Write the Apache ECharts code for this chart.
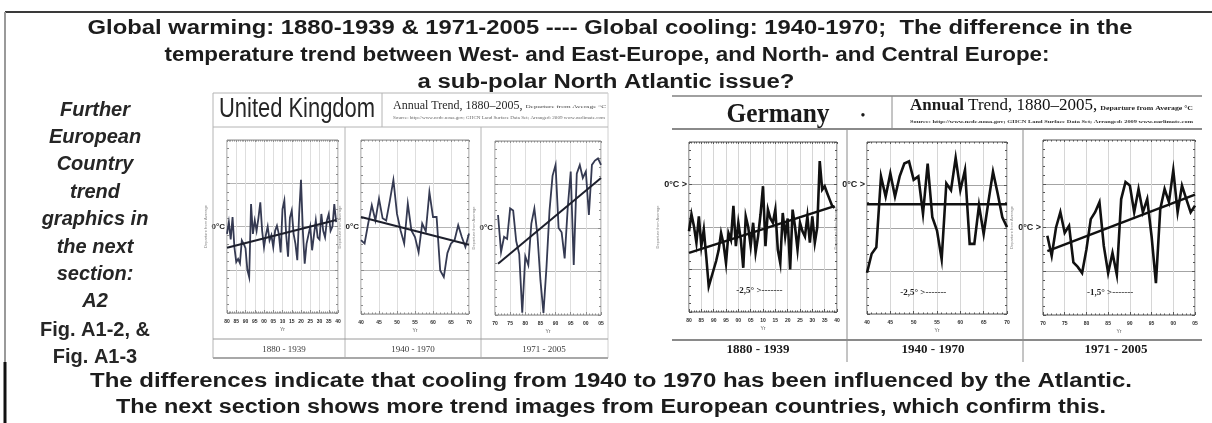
<!DOCTYPE html>
<html>
<head>
<meta charset="utf-8">
<script src="https://cdn.jsdelivr.net/npm/echarts@6/dist/echarts.min.js"></script>
<style>
  html, body { margin: 0; padding: 0; background: #fff; }
  #chart { width: 1212px; height: 423px; }
</style>
</head>
<body>
<div id="chart"></div>
<script>
// ---- Annual temperature departures (°C) ----
const ukTemp1880 = [-0.17, 0.1, -0.3, 0.22, -0.48, -0.82, -0.75, -0.85, -0.32, -0.4,
  -0.5, -1.0, -1.17, 0.52, -0.17, 0.14, -0.1, 0.2, 0.56, -0.1,
  -0.48, -0.2, 0.0, -0.32, -0.2, -0.48, -0.1, 0.02, -0.17, -0.6,
  0.4, 0.6, -0.2, -0.7, 0.2, 0.37, -0.17, -0.4, -0.78, 0.29,
  1.08, -0.1, -0.86, -0.4, -0.2, 0.0, -0.55, -0.2, 0.14, -0.25,
  -0.3, 0.29, -0.1, -0.25, 0.14, 0.29, -0.1, 0.0, 0.52, 0.1];
const ukTemp1940 = [-0.3, -0.38, 0.08, 0.5, 0.15, 0.65, 0.2, 0.15, 0.6, 1.08,
  0.3, -0.08, -0.38, 0.54, -0.08, -0.23, -0.58, 0.08, -0.1, 0.8,
  0.23, 0.23, -1.0, -1.15, -0.6, -0.38, -0.3, 0.04, -0.23, -0.46, -0.15];
const ukTemp1971 = [0.3, -0.55, -0.2, -0.25, 0.45, 0.4, -0.3, -0.6, -1.95, -0.65,
  -0.85, 0.1, 0.45, -0.15, -1.2, -1.95, -0.9, 0.4, 1.2, 1.45,
  0.0, -0.1, -0.7, 0.45, 1.3, -0.85, 1.25, 1.45, 1.15, 1.3,
  0.3, 1.45, 1.55, 1.6, 1.45];

const deTemp1880 = [-1.1, -0.7, -0.98, -1.37, -0.75, -1.45, -1.06, -1.7, -2.4, -2.2,
  -2.0, -1.8, -1.55, -1.14, -1.4, -1.85, -1.14, -1.3, -0.5, -1.45,
  -0.9, -1.3, -1.96, -0.75, -1.0, -1.45, -0.9, -1.6, -1.22, -0.7,
  -0.04, -1.45, -0.59, -0.8, -0.9, -0.59, -1.53, -1.85, -0.67, -1.22,
  -0.8, -2.0, -0.59, -1.0, -1.53, -0.9, -1.1, -1.22, -0.75, -1.37,
  -0.75, -1.37, -1.0, 0.55, -0.12, -0.04, -0.2, -0.35, -0.5, -0.55];
const deTemp1940 = [-2.04, -1.6, -1.45, 0.2, -0.27, 0.27, -0.27, 0.2, 0.5, 0.55,
  0.12, 0.2, -0.67, 0.5, -0.75, -1.06, -1.73, 0.04, -0.12, 0.63,
  -0.12, 0.35, -1.37, -1.37, -0.47, -1.14, -0.4, 0.31, -0.2, -0.75, -0.98];
const deTemp1971 = [-0.19, -0.65, 0.0, 0.35, -0.12, 0.04, -0.8, -0.9, -1.04, -0.5,
  0.19, 0.35, 0.58, -0.42, -1.04, -0.58, -1.08, 0.65, 1.04, 0.96,
  0.35, 0.88, 0.35, 0.65, -0.2, -1.27, 0.42, 0.88, 0.58, 1.31,
  0.35, 0.96, 0.65, 0.35, 0.5];

// Linear trend: value at first year, value at last year
const ukTrend1880 = [-0.49, 0.15];
const ukTrend1940 = [0.23, -0.41];
const ukTrend1971 = [-0.82, 1.15];
const deTrend1880 = [-1.61, -0.51];
const deTrend1940 = [-0.45, -0.45];
const deTrend1971 = [-0.54, 0.75];

// Period labels under each small chart
const periodLabels = ['1880 - 1939', '1940 - 1970', '1971 - 2005'];

// Reference marks written inside the German charts
const deMarkText = ['-2,5° >-------', '-2,5° >-------', '-1,5° >-------'];
const deMarkAt = [[1899, -2.5], [1947, -2.5], [1980, -1.5]];

// ---- Fonts ----
const NARROW = "'Liberation Sans Narrow','Arial Narrow','Liberation Sans',Arial,sans-serif";
const SANS = "'Liberation Sans',Arial,sans-serif";
const SERIF = "'Liberation Serif','Times New Roman',serif";

const mctx = document.createElement('canvas').getContext('2d');
function measure(str, size, weight, style, family) {
  mctx.font = `${style} ${weight} ${size}px ${family}`;
  return mctx.measureText(str).width;
}
function text(str, x, y, o) {
  const size = o.size, weight = o.weight || 'normal', style = o.style || 'normal', family = o.family || SANS;
  let sx = 1;
  if (o.width) sx = o.width / measure(str, size, weight, style, family);
  return {
    type: 'text', x: x, y: y, scaleX: sx, silent: true, z: 20,
    style: {
      text: str, fontSize: size, fontWeight: weight, fontStyle: style, fontFamily: family,
      fill: o.color || '#1c1c1c', textAlign: o.align || 'center', textVerticalAlign: 'middle'
    }
  };
}
function line(x1, y1, x2, y2, color, w) {
  return { type: 'line', silent: true, z: 5, shape: { x1, y1, x2, y2 }, style: { stroke: color, lineWidth: w } };
}
function yearsFrom(start, n) { const a = []; for (let i = 0; i < n; i++) a.push(start + i); return a; }

// ---- Chart panels ----
const UK = { line: '#353a52', lineW: 1.8, trend: '#1d1f2c', trendW: 2, frame: '#8c8c8c', hgrid: '#b5b5b5', vgrid: '#dedede', zero: '0°C', zeroSize: 8 };
const DE = { line: '#111111', lineW: 2.6, trend: '#111111', trendW: 2.5, frame: '#555555', hgrid: '#a4a4a4', vgrid: '#d6d6d6', zero: '0°C >', zeroSize: 9 };

const panels = [
  { look: UK, values: ukTemp1880, trend: ukTrend1880, start: 1880, xr: [1880, 1940], yr: [-2, 2], box: [227, 140, 111, 173] },
  { look: UK, values: ukTemp1940, trend: ukTrend1940, start: 1940, xr: [1940, 1970], yr: [-2, 2], box: [361, 140, 108, 174] },
  { look: UK, values: ukTemp1971, trend: ukTrend1971, start: 1971, xr: [1970, 2005], yr: [-2, 2], box: [495, 141, 106, 174] },
  { look: DE, values: deTemp1880, trend: deTrend1880, start: 1880, xr: [1880, 1940], yr: [-3, 1], box: [689, 142, 148, 170], mark: 0 },
  { look: DE, values: deTemp1940, trend: deTrend1940, start: 1940, xr: [1940, 1970], yr: [-3, 1], box: [867, 142, 140, 172], mark: 1 },
  { look: DE, values: deTemp1971, trend: deTrend1971, start: 1971, xr: [1970, 2005], yr: [-2, 2], box: [1043, 140, 152, 175], mark: 2 }
];

const grid = [], xAxis = [], yAxis = [], series = [];
panels.forEach((p, i) => {
  const L = p.look;
  grid.push({ left: p.box[0], top: p.box[1], width: p.box[2], height: p.box[3], show: true, borderColor: L.frame, borderWidth: 1, backgroundColor: '#fff' });
  const xIdx = xAxis.length, yIdx = yAxis.length;
  xAxis.push({
    type: 'value', gridIndex: i, position: 'bottom', min: p.xr[0], max: p.xr[1], interval: 5,
    axisLine: { show: false, onZero: false },
    axisTick: { show: true, inside: true, length: 3, lineStyle: { color: L.frame } },
    minorTick: { show: true, splitNumber: 5, length: 1.5, lineStyle: { color: L.frame } },
    splitLine: { show: true, lineStyle: { color: L.vgrid, width: 1 } },
    axisLabel: { fontSize: 5, fontWeight: 'bold', color: '#2a2a2a', margin: 6, formatter: v => String(v).slice(2) },
    name: 'Yr', nameLocation: 'middle', nameGap: 14, nameTextStyle: { fontSize: 5, color: '#555' }
  });
  xAxis.push({
    type: 'value', gridIndex: i, position: 'top', min: p.xr[0], max: p.xr[1], interval: 5,
    axisLine: { show: false, onZero: false }, axisLabel: { show: false }, splitLine: { show: false },
    axisTick: { show: true, inside: true, length: 2, lineStyle: { color: L.frame } },
    minorTick: { show: true, splitNumber: 5, length: 1.5, lineStyle: { color: L.frame } }
  });
  yAxis.push({
    type: 'value', gridIndex: i, position: 'left', min: p.yr[0], max: p.yr[1], interval: 1,
    axisLine: { show: false, onZero: false },
    axisTick: { show: true, inside: true, length: 3, lineStyle: { color: L.frame } },
    minorTick: { show: true, splitNumber: 5, length: 2, lineStyle: { color: L.frame } },
    splitLine: { show: true, lineStyle: { color: L.hgrid, width: 1 } },
    axisLabel: { fontSize: L.zeroSize, fontWeight: 'bold', color: '#1a1a1a', margin: 2, fontFamily: SANS, formatter: v => (v === 0 ? L.zero : '') },
    name: 'Departure from Average', nameLocation: 'middle', nameRotate: 90, nameGap: 6,
    nameTextStyle: { fontSize: 4, color: '#8a8a8a' }
  });
  yAxis.push({
    type: 'value', gridIndex: i, position: 'right', min: p.yr[0], max: p.yr[1], interval: 1,
    axisLine: { show: false, onZero: false }, axisLabel: { show: false }, splitLine: { show: false },
    axisTick: { show: true, inside: true, length: 3, lineStyle: { color: L.frame } },
    minorTick: { show: true, splitNumber: 5, length: 2, lineStyle: { color: L.frame } }
  });
  const yrs = yearsFrom(p.start, p.values.length);
  const s = {
    type: 'line', xAxisIndex: xIdx, yAxisIndex: yIdx, symbol: 'none', silent: true, z: 3,
    lineStyle: { color: L.line, width: L.lineW, join: 'miter' },
    data: yrs.map((y, k) => [y, p.values[k]])
  };
  if (p.mark !== undefined) {
    s.markPoint = {
      symbol: 'rect', symbolSize: 1, silent: true,
      itemStyle: { color: 'rgba(0,0,0,0)' },
      label: { show: true, position: 'right', distance: 0, formatter: deMarkText[p.mark], fontSize: 9, fontWeight: 'bold', fontFamily: SERIF, color: '#222' },
      data: [{ coord: deMarkAt[p.mark] }]
    };
  }
  series.push(s);
  series.push({
    type: 'line', xAxisIndex: xIdx, yAxisIndex: yIdx, symbol: 'none', silent: true, z: 4,
    lineStyle: { color: L.trend, width: L.trendW },
    data: [[yrs[0], p.trend[0]], [yrs[yrs.length - 1], p.trend[1]]]
  });
});

// ---- Page text and panel frames ----
const graphic = [];
// page border
graphic.push(line(5, 12, 1212, 12, '#3a3a3a', 2));
graphic.push(line(5, 12, 5, 362, '#9a9a9a', 2));
graphic.push(line(5, 362, 5, 423, '#111', 3));

// heading
graphic.push(text('Global warming: 1880-1939 & 1971-2005 ---- Global cooling: 1940-1970;  The difference in the', 610, 28, { size: 20, weight: 'bold', family: SANS, width: 1045 }));
graphic.push(text('temperature trend between West- and East-Europe, and North- and Central Europe:', 607, 55, { size: 20, weight: 'bold', family: SANS, width: 885 }));
graphic.push(text('a sub-polar North Atlantic issue?', 606, 82, { size: 20, weight: 'bold', family: SANS, width: 377 }));

// side note
const noteItalic = ['Further', 'European', 'Country', 'trend', 'graphics in', 'the next', 'section:', 'A2'];
noteItalic.forEach((t, k) => graphic.push(text(t, 95, 110 + k * 27.4, { size: 20, weight: 'bold', style: 'italic', family: SANS, color: '#262626' })));
graphic.push(text('Fig. A1-2, &', 95, 330, { size: 20, weight: 'bold', family: SANS, color: '#262626' }));
graphic.push(text('Fig. A1-3', 95, 357, { size: 20, weight: 'bold', family: SANS, color: '#262626' }));

// closing lines
graphic.push(text('The differences indicate that cooling from 1940 to 1970 has been influenced by the Atlantic.', 611, 381, { size: 20, weight: 'bold', family: SANS, width: 1042 }));
graphic.push(text('The next section shows more trend images from European countries, which confirm this.', 611, 407, { size: 20, weight: 'bold', family: SANS, width: 990 }));

// United Kingdom panel frame
const ukC = '#b4b4b4';
graphic.push(line(213, 93, 608, 93, ukC, 1));
graphic.push(line(213, 93, 213, 358, ukC, 1));
graphic.push(line(608, 93, 608, 358, '#d0d0d0', 1));
graphic.push(line(213, 127, 608, 127, ukC, 1));
graphic.push(line(382, 93, 382, 127, ukC, 1));
graphic.push(line(345, 127, 345, 358, ukC, 1));
graphic.push(line(481, 127, 481, 358, ukC, 1));
graphic.push(line(213, 339, 608, 339, '#9a9a9a', 1));
graphic.push(line(213, 358, 608, 358, '#a8a8a8', 2));
graphic.push(text('United Kingdom', 297, 110, { size: 27, family: SANS, width: 156, color: '#262626' }));
(function () {
  const a = 'Annual Trend, 1880–2005,';
  const wa = measure(a, 12, 'normal', 'normal', SERIF);
  graphic.push(text(a, 393, 106, { size: 12, family: SERIF, align: 'left', color: '#2a2a2a' }));
  graphic.push(text('Departure from Average °C', 393 + wa + 3, 107, { size: 5, family: SERIF, align: 'left', color: '#444', width: 608 - (393 + wa + 3) - 2 }));
  graphic.push(text('Source: http://www.ncdc.noaa.gov; GHCN Land Surface Data Set; Arranged: 2009 www.oarlimate.com', 393, 118, { size: 4, family: SERIF, align: 'left', color: '#666', width: 212 }));
})();
[284, 413, 544].forEach((cx, k) => graphic.push(text(periodLabels[k], cx, 350, { size: 9, family: SERIF, color: '#3a3a3a' })));

// Germany panel frame
const deC = '#8a8a8a';
graphic.push(line(672, 96, 1202, 96, '#a0a0a0', 2));
graphic.push(line(672, 129, 1202, 129, deC, 2));
graphic.push(line(892, 96, 892, 129, deC, 1));
graphic.push(line(847, 129, 847, 362, deC, 1));
graphic.push(line(1023, 129, 1023, 362, deC, 1));
graphic.push(line(672, 340, 1202, 340, deC, 2));
graphic.push(text('Germany', 778, 115, { size: 28, weight: 'bold', family: SERIF, width: 103, color: '#1a1a1a' }));
graphic.push(text('•', 863, 116, { size: 14, family: SERIF, color: '#1a1a1a' }));
(function () {
  let x = 910;
  graphic.push(text('Annual', x, 106, { size: 17, weight: 'bold', family: SERIF, align: 'left' }));
  x += measure('Annual ', 17, 'bold', 'normal', SERIF);
  const t = 'Trend, 1880–2005,';
  graphic.push(text(t, x, 106, { size: 17, family: SERIF, align: 'left', color: '#111' }));
  x += measure(t, 17, 'normal', 'normal', SERIF) + 3;
  graphic.push(text('Departure from Average °C', x, 108, { size: 6, weight: 'bold', family: SERIF, align: 'left', color: '#222', width: 1193 - x }));
  graphic.push(text('Source: http://www.ncdc.noaa.gov; GHCN Land Surface Data Set; Arranged: 2009 www.oarlimate.com', 910, 122, { size: 5, weight: 'bold', family: SERIF, align: 'left', color: '#333', width: 283 }));
})();
[758, 933, 1116].forEach((cx, k) => graphic.push(text(periodLabels[k], cx, 350, { size: 13, weight: 'bold', family: SERIF, color: '#1a1a1a' })));

const chart = echarts.init(document.getElementById('chart'), null, { renderer: 'canvas' });
chart.setOption({
  animation: false,
  backgroundColor: '#ffffff',
  grid, xAxis, yAxis, series, graphic
});
</script>
</body>
</html>
